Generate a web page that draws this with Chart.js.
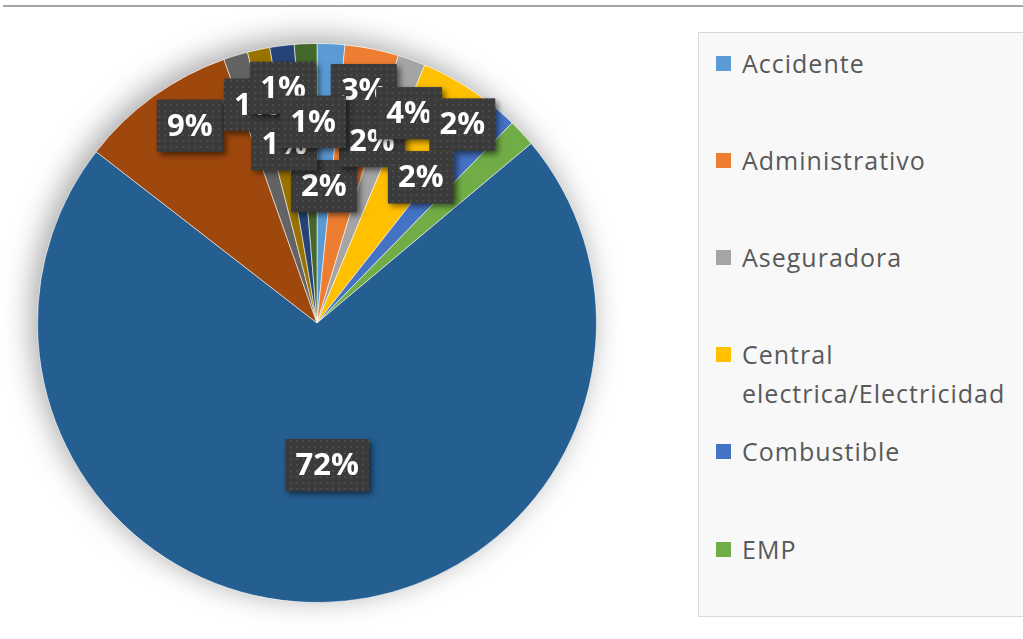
<!DOCTYPE html>
<html>
<head>
<meta charset="utf-8">
<script src="https://cdn.jsdelivr.net/npm/chart.js@4.4.1/dist/chart.umd.min.js"></script>
<style>
  html, body { margin:0; padding:0; background:#ffffff; width:1023px; height:639px; overflow:hidden; }
  body { position:relative; }
  #topline { position:absolute; left:3px; top:5px; width:1020px; height:2px; background:#a6a6a6; }
  #wrap { position:absolute; left:0; top:0; width:634px; height:639px; }
  #legend { position:absolute; left:698px; top:32px; width:360px; height:585px; background:#f8f8f8;
            border:1px solid #d9d9d9; box-sizing:border-box; }
  .item { position:absolute; left:17px; width:310px; display:flex; align-items:flex-start;
          font-family:'Open Sans', sans-serif; font-size:25px; line-height:39px; color:#595959; letter-spacing:1px; }
  .mk { flex:0 0 auto; width:15px; height:15px; margin-top:12px; margin-right:11px; }
</style>
</head>
<body>
<div id="topline"></div>
<div id="wrap"><canvas id="c"></canvas></div>
<div id="legend"></div>
<script>
// ---- data (percent shares) ----
const categories = [
  'Accidente', 'Administrativo', 'Aseguradora', 'Central electrica/Electricidad', 'Combustible', 'EMP',
  'Categoría 7', 'Categoría 8', 'Categoría 9', 'Categoría 10', 'Categoría 11', 'Categoría 12'
];
const shares = [1.6, 3.1, 1.6, 4.3, 1.7, 1.6, 71.6, 9.1, 1.4, 1.3, 1.4, 1.3];
const colors = ['#5B9BD5', '#ED7D31', '#A5A5A5', '#FFC000', '#4472C4', '#70AD47',
                '#255E91', '#9E480E', '#636363', '#997300', '#264478', '#43682B'];
const legendCount = 6; // the reference legend is truncated after six entries

// ---- label layout (Excel "best fit" placement, relative to each slice) ----
const labelRadius = [0.49, 0.85, 0.68, 0.82, 0.88, 0.64, 0.51, 0.84, 0.81, 0.65, 0.85, 0.72];
const labelShift  = [0, 0, -3, -6.7, -5, -11.7, -3, 3, 1.5, 1.7, -1, 1.2];

// dotted dark pattern for label boxes
const pc = document.createElement('canvas');
pc.width = 6; pc.height = 6;
const pctx = pc.getContext('2d');
pctx.fillStyle = '#3b3b3b'; pctx.fillRect(0, 0, 6, 6);
pctx.fillStyle = '#4b4b4b'; pctx.fillRect(2, 2, 2, 2);

const shadowPlugin = {
  id: 'pieShadow',
  beforeDatasetsDraw(chart) {
    const arc = chart.getDatasetMeta(0).data[0];
    if (!arc) return;
    const p = arc.getProps(['x', 'y', 'outerRadius'], true);
    const ctx = chart.ctx;
    ctx.save();
    ctx.shadowColor = 'rgba(0,0,0,0.36)';
    ctx.shadowBlur = 30;
    ctx.shadowOffsetX = -5;
    ctx.shadowOffsetY = -5;
    ctx.beginPath();
    ctx.arc(p.x, p.y, p.outerRadius, 0, Math.PI * 2);
    ctx.fillStyle = '#ffffff';
    ctx.fill();
    ctx.restore();
  }
};

const labelPlugin = {
  id: 'boxLabels',
  afterDatasetsDraw(chart) {
    const ctx = chart.ctx;
    const meta = chart.getDatasetMeta(0);
    const data = chart.data.datasets[0].data;
    const total = data.reduce((a, b) => a + b, 0);
    const pattern = ctx.createPattern(pc, 'repeat');
    ctx.save();
    ctx.font = 'bold 31px "Open Sans"';
    ctx.textAlign = 'center';
    ctx.textBaseline = 'middle';
    meta.data.forEach((arc, i) => {
      const p = arc.getProps(['x', 'y', 'startAngle', 'endAngle', 'outerRadius'], true);
      const a = (p.startAngle + p.endAngle) / 2 + labelShift[i] * Math.PI / 180;
      const r = p.outerRadius * labelRadius[i];
      const cx = p.x + Math.cos(a) * r;
      const cy = p.y + Math.sin(a) * r;
      const txt = Math.round(data[i] / total * 100) + '%';
      const w = ctx.measureText(txt).width + 20;
      const h = 52;
      ctx.save();
      ctx.shadowColor = 'rgba(0,0,0,0.55)';
      ctx.shadowBlur = 6;
      ctx.shadowOffsetX = 3;
      ctx.shadowOffsetY = 3;
      ctx.fillStyle = '#3b3b3b';
      ctx.fillRect(cx - w / 2, cy - h / 2, w, h);
      ctx.restore();
      ctx.fillStyle = pattern;
      ctx.fillRect(cx - w / 2, cy - h / 2, w, h);
      ctx.fillStyle = '#ffffff';
      ctx.fillText(txt, cx, cy + 1);
    });
    ctx.restore();
  }
};

new Chart(document.getElementById('c'), {
  type: 'pie',
  data: {
    labels: categories,
    datasets: [{
      data: shares,
      backgroundColor: colors,
      borderColor: 'rgba(255,255,255,0.55)',
      borderWidth: 1
    }]
  },
  options: {
    responsive: true,
    maintainAspectRatio: false,
    animation: false,
    layout: { padding: { left: 37, right: 37, top: 43, bottom: 36 } },
    plugins: { legend: { display: false }, tooltip: { enabled: false } }
  },
  plugins: [shadowPlugin, labelPlugin]
});

// HTML legend built from the same arrays
const lg = document.getElementById('legend');
for (let i = 0; i < legendCount; i++) {
  const it = document.createElement('div');
  it.className = 'item';
  it.style.top = (10.5 + i * 97.2) + 'px';
  const mk = document.createElement('span');
  mk.className = 'mk';
  mk.style.background = colors[i];
  const tx = document.createElement('span');
  tx.textContent = categories[i];
  it.appendChild(mk);
  it.appendChild(tx);
  lg.appendChild(it);
}
</script>
</body>
</html>
